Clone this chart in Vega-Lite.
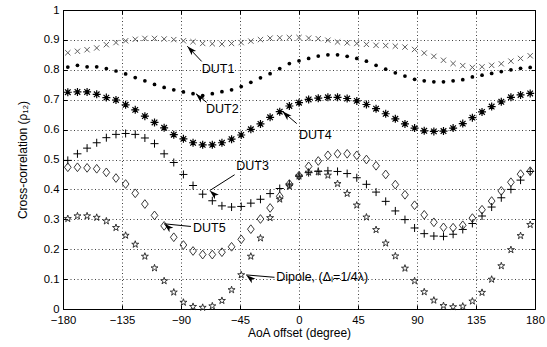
{
  "$schema": "https://vega.github.io/schema/vega-lite/v6.json",
  "width": 472,
  "height": 299,
  "autosize": {"type": "none"},
  "padding": {"left": 63, "top": 10, "right": 12, "bottom": 38},
  "background": "white",
  "config": {
    "view": {"stroke": "black", "strokeWidth": 1},
    "font": "Liberation Sans",
    "axis": {
      "labelFont": "Liberation Sans",
      "titleFont": "Liberation Sans",
      "labelFontSize": 11.3,
      "titleFontSize": 12,
      "labelColor": "black",
      "titleColor": "black",
      "titleFontWeight": "normal",
      "domainColor": "black",
      "tickColor": "black",
      "gridColor": "#000000",
      "gridDash": [1, 2.5],
      "gridOpacity": 0.75,
      "labelOverlap": false,
      "labelFlush": false,
      "labelBound": false
    }
  },
  "datasets": {
    "corr": [
      {"x": -176.33, "d1": 0.857, "d2": 0.809, "d3": 0.497, "d4": 0.725, "d5": 0.474, "dp": 0.302},
      {"x": -168.98, "d1": 0.862, "d2": 0.815, "d3": 0.519, "d4": 0.726, "d5": 0.474, "dp": 0.311},
      {"x": -161.63, "d1": 0.867, "d2": 0.810, "d3": 0.538, "d4": 0.726, "d5": 0.472, "dp": 0.311},
      {"x": -154.29, "d1": 0.873, "d2": 0.810, "d3": 0.556, "d4": 0.718, "d5": 0.469, "dp": 0.306},
      {"x": -146.94, "d1": 0.884, "d2": 0.804, "d3": 0.573, "d4": 0.707, "d5": 0.457, "dp": 0.294},
      {"x": -139.59, "d1": 0.891, "d2": 0.796, "d3": 0.584, "d4": 0.699, "d5": 0.438, "dp": 0.272},
      {"x": -132.24, "d1": 0.897, "d2": 0.786, "d3": 0.587, "d4": 0.683, "d5": 0.418, "dp": 0.246},
      {"x": -124.90, "d1": 0.902, "d2": 0.774, "d3": 0.584, "d4": 0.666, "d5": 0.387, "dp": 0.216},
      {"x": -117.55, "d1": 0.905, "d2": 0.763, "d3": 0.572, "d4": 0.645, "d5": 0.351, "dp": 0.176},
      {"x": -110.20, "d1": 0.905, "d2": 0.751, "d3": 0.553, "d4": 0.624, "d5": 0.313, "dp": 0.137},
      {"x": -102.86, "d1": 0.903, "d2": 0.741, "d3": 0.519, "d4": 0.606, "d5": 0.278, "dp": 0.094},
      {"x": -95.51, "d1": 0.901, "d2": 0.733, "d3": 0.490, "d4": 0.583, "d5": 0.240, "dp": 0.056},
      {"x": -88.16, "d1": 0.897, "d2": 0.726, "d3": 0.450, "d4": 0.569, "d5": 0.214, "dp": 0.022},
      {"x": -80.82, "d1": 0.894, "d2": 0.720, "d3": 0.413, "d4": 0.556, "d5": 0.194, "dp": 0.008},
      {"x": -73.47, "d1": 0.888, "d2": 0.714, "d3": 0.384, "d4": 0.549, "d5": 0.182, "dp": 0.005},
      {"x": -66.12, "d1": 0.887, "d2": 0.720, "d3": 0.362, "d4": 0.549, "d5": 0.182, "dp": 0.010},
      {"x": -58.78, "d1": 0.886, "d2": 0.727, "d3": 0.345, "d4": 0.556, "d5": 0.190, "dp": 0.028},
      {"x": -51.43, "d1": 0.888, "d2": 0.733, "d3": 0.341, "d4": 0.568, "d5": 0.208, "dp": 0.064},
      {"x": -44.08, "d1": 0.891, "d2": 0.744, "d3": 0.343, "d4": 0.582, "d5": 0.233, "dp": 0.114},
      {"x": -36.73, "d1": 0.896, "d2": 0.758, "d3": 0.354, "d4": 0.601, "d5": 0.267, "dp": 0.176},
      {"x": -29.39, "d1": 0.901, "d2": 0.773, "d3": 0.367, "d4": 0.619, "d5": 0.301, "dp": 0.237},
      {"x": -22.04, "d1": 0.906, "d2": 0.787, "d3": 0.386, "d4": 0.641, "d5": 0.338, "dp": 0.305},
      {"x": -14.69, "d1": 0.907, "d2": 0.804, "d3": 0.403, "d4": 0.660, "d5": 0.377, "dp": 0.367},
      {"x": -7.35, "d1": 0.908, "d2": 0.821, "d3": 0.418, "d4": 0.679, "d5": 0.418, "dp": 0.410},
      {"x": 0, "d1": 0.908, "d2": 0.830, "d3": 0.444, "d4": 0.690, "d5": 0.446, "dp": 0.444},
      {"x": 7.35, "d1": 0.906, "d2": 0.838, "d3": 0.456, "d4": 0.701, "d5": 0.477, "dp": 0.457},
      {"x": 14.69, "d1": 0.904, "d2": 0.846, "d3": 0.460, "d4": 0.705, "d5": 0.495, "dp": 0.458},
      {"x": 22.04, "d1": 0.899, "d2": 0.850, "d3": 0.462, "d4": 0.708, "d5": 0.514, "dp": 0.447},
      {"x": 29.39, "d1": 0.893, "d2": 0.850, "d3": 0.460, "d4": 0.708, "d5": 0.519, "dp": 0.419},
      {"x": 36.73, "d1": 0.890, "d2": 0.845, "d3": 0.453, "d4": 0.704, "d5": 0.519, "dp": 0.386},
      {"x": 44.08, "d1": 0.888, "d2": 0.838, "d3": 0.439, "d4": 0.696, "d5": 0.514, "dp": 0.347},
      {"x": 51.43, "d1": 0.885, "d2": 0.829, "d3": 0.417, "d4": 0.684, "d5": 0.500, "dp": 0.307},
      {"x": 58.78, "d1": 0.882, "d2": 0.815, "d3": 0.391, "d4": 0.670, "d5": 0.479, "dp": 0.265},
      {"x": 66.12, "d1": 0.881, "d2": 0.802, "d3": 0.360, "d4": 0.653, "d5": 0.450, "dp": 0.220},
      {"x": 73.47, "d1": 0.879, "d2": 0.790, "d3": 0.328, "d4": 0.636, "d5": 0.416, "dp": 0.177},
      {"x": 80.82, "d1": 0.876, "d2": 0.779, "d3": 0.299, "d4": 0.619, "d5": 0.382, "dp": 0.136},
      {"x": 88.16, "d1": 0.868, "d2": 0.768, "d3": 0.271, "d4": 0.605, "d5": 0.347, "dp": 0.094},
      {"x": 95.51, "d1": 0.856, "d2": 0.763, "d3": 0.252, "d4": 0.596, "d5": 0.315, "dp": 0.057},
      {"x": 102.86, "d1": 0.845, "d2": 0.760, "d3": 0.244, "d4": 0.594, "d5": 0.290, "dp": 0.029},
      {"x": 110.20, "d1": 0.832, "d2": 0.760, "d3": 0.243, "d4": 0.595, "d5": 0.273, "dp": 0.011},
      {"x": 117.55, "d1": 0.821, "d2": 0.763, "d3": 0.250, "d4": 0.605, "d5": 0.272, "dp": 0.007},
      {"x": 124.90, "d1": 0.814, "d2": 0.767, "d3": 0.266, "d4": 0.620, "d5": 0.280, "dp": 0.009},
      {"x": 132.24, "d1": 0.808, "d2": 0.776, "d3": 0.286, "d4": 0.640, "d5": 0.304, "dp": 0.026},
      {"x": 139.59, "d1": 0.810, "d2": 0.782, "d3": 0.311, "d4": 0.659, "d5": 0.332, "dp": 0.055},
      {"x": 146.94, "d1": 0.815, "d2": 0.788, "d3": 0.341, "d4": 0.677, "d5": 0.361, "dp": 0.099},
      {"x": 154.29, "d1": 0.820, "d2": 0.794, "d3": 0.372, "d4": 0.693, "d5": 0.395, "dp": 0.144},
      {"x": 161.63, "d1": 0.829, "d2": 0.800, "d3": 0.400, "d4": 0.708, "d5": 0.424, "dp": 0.198},
      {"x": 168.98, "d1": 0.838, "d2": 0.805, "d3": 0.431, "d4": 0.716, "d5": 0.451, "dp": 0.245},
      {"x": 176.33, "d1": 0.847, "d2": 0.808, "d3": 0.460, "d4": 0.721, "d5": 0.461, "dp": 0.282}
    ],
    "ann": [
      {"label": "DUT1", "tx": -74.2, "ty": 0.804, "x1": -74.2, "y1": 0.828, "x2": -85.2, "y2": 0.879},
      {"label": "DUT2", "tx": -70.9, "ty": 0.670, "x1": -70.4, "y1": 0.691, "x2": -78.6, "y2": 0.720},
      {"label": "DUT4", "tx": 0.0, "ty": 0.583, "x1": -1.7, "y1": 0.620, "x2": -12.6, "y2": 0.661},
      {"label": "DUT3", "tx": -47.9, "ty": 0.477, "x1": -49.1, "y1": 0.449, "x2": -68.1, "y2": 0.396},
      {"label": "DUT5", "tx": -80.8, "ty": 0.272, "x1": -82.4, "y1": 0.276, "x2": -102.9, "y2": 0.285},
      {"label": "Dipole, (Δₗ=1/4λ)", "tx": -17.4, "ty": 0.108, "x1": -18.7, "y1": 0.106, "x2": -40.3, "y2": 0.114}
    ]
  },
  "data": {"name": "corr"},
  "layer": [
    {
      "mark": {"type": "point", "shape": "M-1,-1L1,1M-1,1L1,-1", "size": 28, "filled": false, "stroke": "#5e5e5e", "strokeWidth": 1, "opacity": 1},
      "encoding": {
        "x": {"field": "x", "type": "quantitative", "scale": {"domain": [-180, 180], "nice": false, "zero": false},
          "axis": {"orient": "bottom", "values": [-180, -135, -90, -45, 0, 45, 90, 135, 180], "title": "AoA offset (degree)", "grid": true, "domain": false, "tickSize": -4, "labelPadding": 9, "titleX": 236, "titleY": 23, "titleBaseline": "middle", "titleAlign": "center"}},
        "y": {"field": "d1", "type": "quantitative", "scale": {"domain": [0, 1], "nice": false, "zero": false},
          "axis": {"orient": "left", "values": [0, 0.1, 0.2, 0.3, 0.4, 0.5, 0.6, 0.7, 0.8, 0.9, 1], "format": "~g", "title": "Cross-correlation (ρ₁₂)", "grid": true, "domain": false, "tickSize": -4, "labelPadding": 8, "titleX": -41, "titleY": 149.5, "titleAngle": -90, "titleBaseline": "middle", "titleAlign": "center"}}
      }
    },
    {
      "mark": {"type": "point", "shape": "circle", "size": 14, "filled": true, "color": "black", "opacity": 1},
      "encoding": {
        "x": {"field": "x", "type": "quantitative", "scale": {"domain": [-180, 180], "nice": false, "zero": false},
          "axis": {"orient": "top", "values": [-180, -135, -90, -45, 0, 45, 90, 135, 180], "labels": false, "title": null, "grid": false, "domain": false, "tickSize": -4}},
        "y": {"field": "d2", "type": "quantitative", "scale": {"domain": [0, 1], "nice": false, "zero": false},
          "axis": {"orient": "right", "values": [0, 0.1, 0.2, 0.3, 0.4, 0.5, 0.6, 0.7, 0.8, 0.9, 1], "labels": false, "title": null, "grid": false, "domain": false, "tickSize": -4}}
      }
    },
    {
      "mark": {"type": "point", "shape": "M-1,0L1,0M0,-1L0,1M-0.7,-0.7L0.7,0.7M-0.7,0.7L0.7,-0.7", "size": 64, "filled": false, "stroke": "black", "strokeWidth": 1.2, "opacity": 1},
      "encoding": {
        "x": {"field": "x", "type": "quantitative", "axis": null},
        "y": {"field": "d4", "type": "quantitative", "axis": null}
      }
    },
    {
      "mark": {"type": "point", "shape": "circle", "size": 10, "filled": true, "color": "black", "opacity": 1},
      "encoding": {
        "x": {"field": "x", "type": "quantitative", "axis": null},
        "y": {"field": "d4", "type": "quantitative", "axis": null}
      }
    },
    {
      "mark": {"type": "point", "shape": "M-1,0L1,0M0,-1L0,1", "size": 64, "filled": false, "stroke": "black", "strokeWidth": 1, "opacity": 1},
      "encoding": {
        "x": {"field": "x", "type": "quantitative", "axis": null},
        "y": {"field": "d3", "type": "quantitative", "axis": null}
      }
    },
    {
      "mark": {"type": "point", "shape": "M0,-1L0.77,0L0,1L-0.77,0Z", "size": 76, "filled": false, "stroke": "#222222", "strokeWidth": 0.9, "opacity": 1},
      "encoding": {
        "x": {"field": "x", "type": "quantitative", "axis": null},
        "y": {"field": "d5", "type": "quantitative", "axis": null}
      }
    },
    {
      "mark": {"type": "point", "shape": "M0,-1L0.2245,-0.309L0.951,-0.309L0.363,0.118L0.588,0.809L0,0.382L-0.588,0.809L-0.363,0.118L-0.951,-0.309L-0.2245,-0.309Z", "size": 54, "filled": false, "stroke": "#222222", "strokeWidth": 0.9, "opacity": 1},
      "encoding": {
        "x": {"field": "x", "type": "quantitative", "axis": null},
        "y": {"field": "dp", "type": "quantitative", "axis": null}
      }
    },
    {
      "data": {"name": "ann"},
      "mark": {"type": "rule", "color": "black", "strokeWidth": 1},
      "encoding": {
        "x": {"field": "x1", "type": "quantitative", "axis": null},
        "y": {"field": "y1", "type": "quantitative", "axis": null},
        "x2": {"field": "x2"},
        "y2": {"field": "y2"}
      }
    },
    {
      "data": {"name": "ann"},
      "mark": {"type": "point", "shape": "M0,0L-0.75,2.4L0,1.8L0.75,2.4Z", "size": 64, "filled": true, "color": "black", "opacity": 1},
      "encoding": {
        "x": {"field": "x2", "type": "quantitative", "axis": null},
        "y": {"field": "y2", "type": "quantitative", "axis": null},
        "angle": {"field": "label", "type": "nominal", "legend": null,
          "scale": {"domain": ["DUT1", "DUT2", "DUT4", "DUT3", "DUT5", "Dipole, (Δₗ=1/4λ)"], "range": [-43.8, -50.9, -49.3, -122.1, -84.3, -85.4]}}
      }
    },
    {
      "data": {"name": "ann"},
      "mark": {"type": "text", "align": "left", "baseline": "middle", "fontSize": 12.5, "font": "Liberation Sans", "color": "black"},
      "encoding": {
        "x": {"field": "tx", "type": "quantitative", "axis": null},
        "y": {"field": "ty", "type": "quantitative", "axis": null},
        "text": {"field": "label"}
      }
    }
  ],
  "resolve": {"axis": {"x": "independent", "y": "independent"}}
}
